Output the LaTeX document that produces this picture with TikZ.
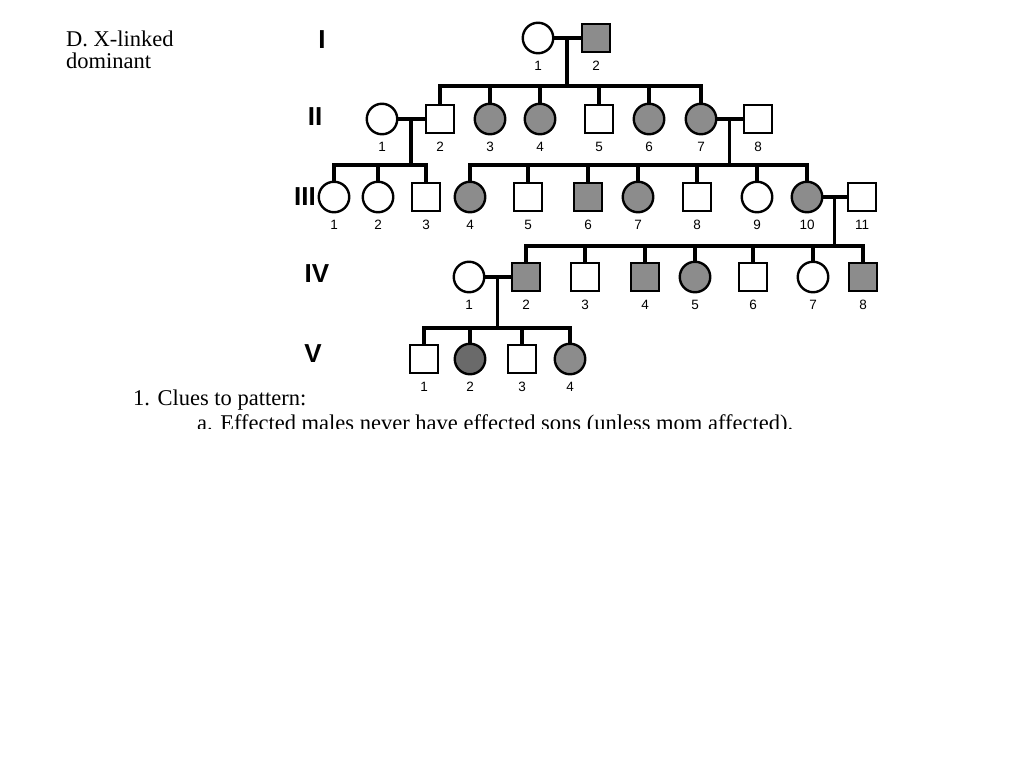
\documentclass[tikz,border=0pt]{standalone}
\usepackage{fontspec}
\setmainfont{Liberation Serif}
\setsansfont{Liberation Sans}
\usepackage{xcolor}
\usepackage{tikz}
\usetikzlibrary{calc}
\definecolor{affgray}{HTML}{8C8C8C}
\definecolor{affdark}{HTML}{6A6A6A}

\begin{document}
\begin{tikzpicture}[
  x=1pt,y=-1pt,
  font=\sffamily,
  label distance=6pt,
  male/.style={rectangle,draw,line width=2.4pt,fill=white,minimum size=28.5pt,inner sep=0pt},
  female/.style={circle,draw,line width=2.4pt,fill=white,minimum size=30.5pt,inner sep=0pt},
  aff/.style={fill=affgray},
  affdk/.style={fill=affdark},
  num/.style={font=\sffamily\fontsize{13.5}{14}\selectfont,inner sep=0pt,text height=10pt,text depth=0pt},
  mnum/.style={num,yshift=-0.8pt},
  gen/.style={font=\sffamily\bfseries\fontsize{26}{28}\selectfont,inner sep=0pt},
  note/.style={font=\rmfamily\fontsize{22.5}{22}\selectfont,inner sep=0pt,align=left},
  ln/.style={line width=3.2pt}
]
\useasboundingbox (0,0) rectangle (1024,768);

% generation labels
\node[gen] (gI) at (322,40) {I};
\node[gen] (gII) at (315,117) {II};
\node[gen] (gIII) at (305,197) {III};
\node[gen] (gIV) at (317,274) {IV};
\node[gen] (gV) at (313,354) {V};

% generation I
\node[female,label={[num]below:1}] (i1) at (538,38) {};
\node[male,aff,label={[mnum]below:2}] (i2) at (596,38) {};

% generation II
\node[female,label={[num]below:1}] (ii1) at (382,119) {};
\node[male,label={[mnum]below:2}] (ii2) at (440,119) {};
\node[female,aff,label={[num]below:3}] (ii3) at (490,119) {};
\node[female,aff,label={[num]below:4}] (ii4) at (540,119) {};
\node[male,label={[mnum]below:5}] (ii5) at (599,119) {};
\node[female,aff,label={[num]below:6}] (ii6) at (649,119) {};
\node[female,aff,label={[num]below:7}] (ii7) at (701,119) {};
\node[male,label={[mnum]below:8}] (ii8) at (758,119) {};

% generation III
\node[female,label={[num]below:1}] (iii1) at (334,197) {};
\node[female,label={[num]below:2}] (iii2) at (378,197) {};
\node[male,label={[mnum]below:3}] (iii3) at (426,197) {};
\node[female,aff,label={[num]below:4}] (iii4) at (470,197) {};
\node[male,label={[mnum]below:5}] (iii5) at (528,197) {};
\node[male,aff,label={[mnum]below:6}] (iii6) at (588,197) {};
\node[female,aff,label={[num]below:7}] (iii7) at (638,197) {};
\node[male,label={[mnum]below:8}] (iii8) at (697,197) {};
\node[female,label={[num]below:9}] (iii9) at (757,197) {};
\node[female,aff,label={[num]below:10}] (iii10) at (807,197) {};
\node[male,label={[mnum]below:11}] (iii11) at (862,197) {};

% generation IV
\node[female,label={[num]below:1}] (iv1) at (469,277) {};
\node[male,aff,label={[mnum]below:2}] (iv2) at (526,277) {};
\node[male,label={[mnum]below:3}] (iv3) at (585,277) {};
\node[male,aff,label={[mnum]below:4}] (iv4) at (645,277) {};
\node[female,aff,label={[num]below:5}] (iv5) at (695,277) {};
\node[male,label={[mnum]below:6}] (iv6) at (753,277) {};
\node[female,label={[num]below:7}] (iv7) at (813,277) {};
\node[male,aff,label={[mnum]below:8}] (iv8) at (863,277) {};

% generation V
\node[male,label={[mnum]below:1}] (v1) at (424,359) {};
\node[female,affdk,label={[num]below:2}] (v2) at (470,359) {};
\node[male,label={[mnum]below:3}] (v3) at (522,359) {};
\node[female,aff,label={[num]below:4}] (v4) at (570,359) {};

% sibship lines and mating points
\coordinate (s1) at (0,86);
\coordinate (s2) at (0,165);
\coordinate (s3) at (0,246);
\coordinate (s4) at (0,328);
\coordinate (m1) at ($(i1)!.5!(i2)$);
\coordinate (m2) at ($(ii1)!.5!(ii2)$);
\coordinate (m3) at ($(ii7)!.5!(ii8)$);
\coordinate (m4) at ($(iii10)!.5!(iii11)$);
\coordinate (m5) at ($(iv1)!.5!(iv2)$);

% matings
\draw[ln] (i1)--(i2);
\draw[ln] (ii1)--(ii2);
\draw[ln] (ii7)--(ii8);
\draw[ln] (iii10)--(iii11);
\draw[ln] (iv1)--(iv2);

% descent
\draw[ln] (m1)--(m1 |- s1);
\draw[ln] (ii2.north) |- (ii7.north |- s1) -- (ii7.north)
  (ii3.north)--(ii3.north |- s1) (ii4.north)--(ii4.north |- s1)
  (ii5.north)--(ii5.north |- s1) (ii6.north)--(ii6.north |- s1);
\draw[ln] (m2)--(m2 |- s2);
\draw[ln] (iii1.north) |- (iii3.north |- s2) -- (iii3.north)
  (iii2.north)--(iii2.north |- s2);
\draw[ln] (m3)--(m3 |- s2);
\draw[ln] (iii4.north) |- (iii10.north |- s2) -- (iii10.north)
  (iii5.north)--(iii5.north |- s2) (iii6.north)--(iii6.north |- s2)
  (iii7.north)--(iii7.north |- s2) (iii8.north)--(iii8.north |- s2)
  (iii9.north)--(iii9.north |- s2);
\draw[ln] (m4)--(m4 |- s3);
\draw[ln] (iv2.north) |- (iv8.north |- s3) -- (iv8.north)
  (iv3.north)--(iv3.north |- s3) (iv4.north)--(iv4.north |- s3)
  (iv5.north)--(iv5.north |- s3) (iv6.north)--(iv6.north |- s3)
  (iv7.north)--(iv7.north |- s3);
\draw[ln] (m5)--(m5 |- s4);
\draw[ln] (v1.north) |- (v4.north |- s4) -- (v4.north)
  (v2.north)--(v2.north |- s4) (v3.north)--(v3.north |- s4);

% texts
\node[note,anchor=north west] (title) at (66,31) {D. X-linked\\dominant};
\node[note,anchor=base west] (clue) at (133,405) {1. Clues to pattern:};
\begin{scope}
  \clip (0,0) rectangle (1024,428);
  \node[note,anchor=base west] (clueA) at (197,430) {a. Effected males never have effected sons (unless mom affected).};
\end{scope}
\end{tikzpicture}
\end{document}
